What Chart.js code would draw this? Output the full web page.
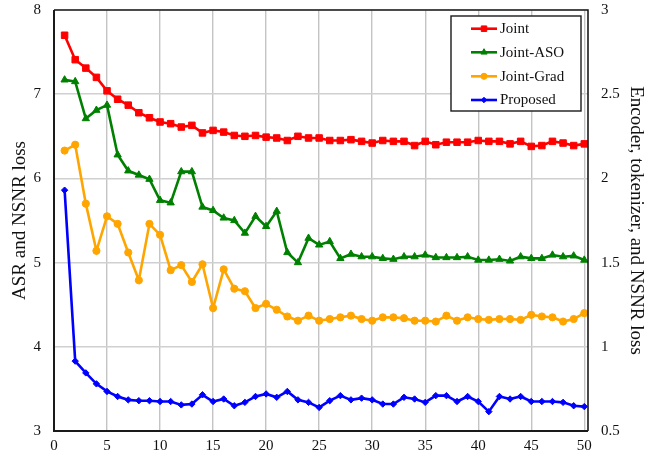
<!DOCTYPE html>
<html>
<head>
<meta charset="utf-8">
<script src="https://cdn.jsdelivr.net/npm/chart.js@4/dist/chart.umd.min.js"></script>
<style>
  html, body { margin: 0; padding: 0; background: #ffffff; }
  #wrap { width: 656px; height: 456px; position: relative; }
</style>
</head>
<body>
<div id="wrap"><canvas id="c" width="656" height="456"></canvas></div>
<script>
// Training epochs
const epochs = [1,2,3,4,5,6,7,8,9,10,11,12,13,14,15,16,17,18,19,20,21,22,23,24,25,
                26,27,28,29,30,31,32,33,34,35,36,37,38,39,40,41,42,43,44,45,46,47,48,49,50];

// Loss curves per method
const joint = [7.70,7.41,7.31,7.20,7.04,6.94,6.87,6.78,6.72,6.67,6.65,6.61,6.63,
               6.54,6.57,6.55,6.51,6.50,6.51,6.49,6.48,6.45,6.50,6.48,6.48,6.45,6.45,
               6.46,6.44,6.42,6.45,6.44,6.44,6.39,6.44,6.40,6.43,6.43,6.43,6.45,
               6.44,6.44,6.41,6.44,6.38,6.39,6.44,6.42,6.39,6.41];
const jointASO = [7.17,7.15,6.71,6.81,6.87,6.28,6.09,6.04,5.99,5.74,5.71,6.08,6.08,
                  5.66,5.62,5.53,5.50,5.35,5.55,5.43,5.61,5.12,5.00,5.29,5.21,5.25,5.05,
                  5.10,5.07,5.07,5.05,5.04,5.07,5.07,5.09,5.06,5.06,5.06,5.07,5.03,
                  5.03,5.04,5.02,5.07,5.05,5.05,5.09,5.07,5.08,5.03];
const jointGrad = [6.33,6.40,5.70,5.14,5.55,5.46,5.12,4.79,5.46,5.33,4.91,4.97,4.77,
                   4.98,4.46,4.92,4.69,4.66,4.46,4.51,4.44,4.36,4.31,4.37,4.31,4.33,4.35,
                   4.37,4.33,4.31,4.35,4.35,4.34,4.31,4.31,4.30,4.37,4.31,4.35,4.33,
                   4.32,4.33,4.33,4.32,4.38,4.36,4.35,4.30,4.33,4.40];
const proposed = [5.86,3.83,3.69,3.56,3.47,3.41,3.37,3.36,3.36,3.35,3.35,3.31,3.32,
                  3.43,3.35,3.38,3.30,3.34,3.41,3.44,3.40,3.47,3.37,3.34,3.28,3.36,3.42,
                  3.37,3.39,3.37,3.32,3.32,3.40,3.38,3.34,3.42,3.42,3.35,3.41,3.35,
                  3.23,3.41,3.38,3.41,3.35,3.35,3.35,3.34,3.30,3.29];

const seriesNames = ['Joint', 'Joint-ASO', 'Joint-Grad', 'Proposed'];
const xTicks = [0,5,10,15,20,25,30,35,40,45,50];
const leftTicks = [3,4,5,6,7,8];
const rightTicks = [0.5,1,1.5,2,2.5,3];

const FONT = '"Liberation Serif", "Times New Roman", serif';

function pts(vals) { return vals.map((v, i) => ({ x: epochs[i], y: v })); }

const styles = [
  { color: '#ff0000', pointStyle: 'rect',     radius: 4.6 },
  { color: '#008000', pointStyle: 'triangle', radius: 4.2 },
  { color: '#ffa500', pointStyle: 'circle',   radius: 3.6 },
  { color: '#0000ff', pointStyle: 'rectRot',  radius: 3.2 }
];
const values = [joint, jointASO, jointGrad, proposed];

const datasets = values.map((vals, k) => ({
  label: seriesNames[k],
  data: pts(vals),
  borderColor: styles[k].color,
  backgroundColor: styles[k].color,
  pointBackgroundColor: styles[k].color,
  pointBorderColor: styles[k].color,
  pointStyle: styles[k].pointStyle,
  pointRadius: styles[k].radius,
  pointBorderWidth: 1,
  borderWidth: 2.6,
  tension: 0,
  yAxisID: 'y'
}));

// Plot frame
const framePlugin = {
  id: 'frame',
  afterDatasetsDraw(chart) {
    const { ctx, chartArea: a } = chart;
    ctx.save();
    ctx.strokeStyle = '#1a1a1a';
    ctx.lineWidth = 1.6;
    ctx.beginPath();
    ctx.moveTo(a.left, a.top); ctx.lineTo(a.right, a.top); ctx.lineTo(a.right, a.bottom);
    ctx.stroke();
    ctx.lineWidth = 2;
    ctx.beginPath();
    ctx.moveTo(a.left, a.top); ctx.lineTo(a.left, a.bottom); ctx.lineTo(a.right, a.bottom);
    ctx.stroke();
    ctx.restore();
  }
};

// Boxed legend in the upper right corner of the plot
const legendPlugin = {
  id: 'boxLegend',
  afterDraw(chart) {
    const { ctx } = chart;
    const bx = 451, by = 16, bw = 130, bh = 95;
    ctx.save();
    ctx.fillStyle = '#ffffff';
    ctx.fillRect(bx, by, bw, bh);
    ctx.strokeStyle = '#1a1a1a';
    ctx.lineWidth = 1.4;
    ctx.strokeRect(bx, by, bw, bh);
    const rowY = [28.7, 52.3, 76.3, 100];
    chart.data.datasets.forEach((ds, k) => {
      const y = rowY[k];
      ctx.strokeStyle = ds.borderColor;
      ctx.fillStyle = ds.borderColor;
      ctx.lineWidth = 2.6;
      ctx.beginPath();
      ctx.moveTo(471, y); ctx.lineTo(497, y);
      ctx.stroke();
      ctx.lineWidth = 1;
      Chart.helpers.drawPoint(ctx, {
        pointStyle: ds.pointStyle, radius: ds.pointRadius * 0.85, borderWidth: 1, rotation: 0
      }, 484, y);
      ctx.fillStyle = '#111111';
      ctx.font = '15px ' + FONT;
      ctx.textAlign = 'left';
      ctx.textBaseline = 'middle';
      ctx.fillText(ds.label, 500, y + 0.5);
    });
    ctx.restore();
  }
};

// Fixed scale box sizes so the plot area sits at a known place
function fitVertical(width) {
  return s => { s.width = width; s.paddingTop = 10; s.paddingBottom = 0; };
}

new Chart(document.getElementById('c'), {
  type: 'line',
  data: { datasets },
  options: {
    responsive: false,
    animation: false,
    devicePixelRatio: 1,
    layout: { padding: 0 },
    plugins: {
      legend: { display: false },
      tooltip: { enabled: false }
    },
    scales: {
      x: {
        type: 'linear',
        min: 0,
        max: 50.35,
        afterBuildTicks: s => { s.ticks = xTicks.map(v => ({ value: v })); },
        afterFit: s => { s.height = 25; s.paddingLeft = 0; s.paddingRight = 0; },
        grid: { color: '#c4c4c4', lineWidth: 1.4, drawTicks: false },
        border: { display: false },
        ticks: { color: '#111', font: { family: FONT, size: 15 }, padding: 6, maxRotation: 0 }
      },
      y: {
        type: 'linear',
        position: 'left',
        min: 3,
        max: 8,
        afterBuildTicks: s => { s.ticks = leftTicks.map(v => ({ value: v })); },
        afterFit: fitVertical(54),
        grid: { color: '#d0d0d0', lineWidth: 1.4, drawTicks: false },
        border: { display: false },
        ticks: { color: '#111', font: { family: FONT, size: 15 }, padding: 13,
                 callback: v => String(v) },
        title: {
          display: true, text: 'ASR and NSNR loss', color: '#111',
          font: { family: FONT, size: 19 }, padding: { top: 9, bottom: 0 }
        }
      },
      y2: {
        type: 'linear',
        position: 'right',
        min: 0.5,
        max: 3,
        afterBuildTicks: s => { s.ticks = rightTicks.map(v => ({ value: v })); },
        afterFit: fitVertical(68),
        grid: { drawOnChartArea: false, drawTicks: false },
        border: { display: false },
        ticks: { color: '#111', font: { family: FONT, size: 15 }, padding: 13,
                 callback: v => String(v) },
        title: {
          display: true, text: 'Encoder, tokenizer, and NSNR loss', color: '#111',
          font: { family: FONT, size: 19 }, padding: { top: 9, bottom: 0 }
        }
      }
    }
  },
  plugins: [framePlugin, legendPlugin]
});
</script>
</body>
</html>
